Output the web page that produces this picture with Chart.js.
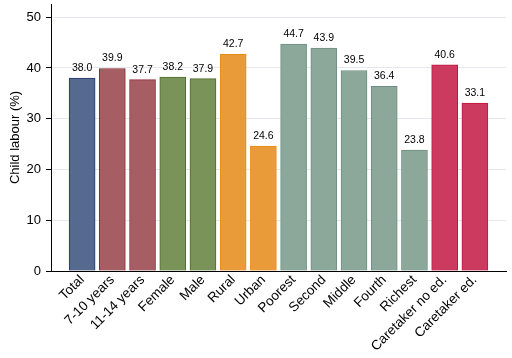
<!DOCTYPE html>
<html>
<head>
<meta charset="utf-8">
<script src="https://cdn.jsdelivr.net/npm/chart.js@4/dist/chart.umd.min.js"></script>
<style>
  html, body { margin: 0; padding: 0; background: #fff; }
  #wrap { width: 512px; height: 358px; }
</style>
</head>
<body>
<div id="wrap"><canvas id="chart" width="512" height="358"></canvas></div>
<script>
// ====== DATA ======
const categories = ["Total", "7-10 years", "11-14 years", "Female", "Male", "Rural", "Urban",
  "Poorest", "Second", "Middle", "Fourth", "Richest", "Caretaker no ed.", "Caretaker ed."];
const childLabour = [38.0, 39.9, 37.7, 38.2, 37.9, 42.7, 24.6, 44.7, 43.9, 39.5, 36.4, 23.8, 40.6, 33.1];
const groupOf = [0, 1, 1, 2, 2, 3, 3, 4, 4, 4, 4, 4, 5, 5];
const yTicks = [0, 10, 20, 30, 40, 50];

// ====== STYLES ======
const groupFill = ["#566a90", "#a65d63", "#7a9358", "#e99b3a", "#8ca89b", "#cc3b5f"];
const groupEdge = ["#26386c", "#8f2c37", "#4f6c30", "#e98c12", "#6d8f81", "#c4143f"];
const FONT = "'Liberation Sans', Arial, sans-serif";

// kill the auto label padding so the plot box lands where the reference has it
function noPad(s) {
  s.paddingLeft = 0; s.paddingRight = 0; s.paddingTop = 0; s.paddingBottom = 0;
}

// value labels above bars
const valueLabels = {
  id: 'valueLabels',
  afterDatasetsDraw(chart) {
    const ctx = chart.ctx;
    const meta = chart.getDatasetMeta(0);
    ctx.save();
    ctx.font = "10.5px " + FONT;
    ctx.fillStyle = "#000";
    ctx.textAlign = "center";
    ctx.textBaseline = "alphabetic";
    meta.data.forEach((bar, i) => {
      ctx.fillText(childLabour[i].toFixed(1), bar.x, bar.y - 7);
    });
    ctx.restore();
  }
};

const ctx = document.getElementById('chart').getContext('2d');
new Chart(ctx, {
  type: 'bar',
  data: {
    datasets: [{
      data: childLabour.map((v, i) => ({ x: i, y: v })),
      backgroundColor: groupOf.map(g => groupFill[g]),
      borderColor: groupOf.map(g => groupEdge[g]),
      borderWidth: 1,
      barThickness: 26
    }]
  },
  options: {
    responsive: false,
    animation: false,
    layout: { padding: { top: 4, right: 6, left: 0, bottom: 0 } },
    plugins: { legend: { display: false }, tooltip: { enabled: false } },
    scales: {
      x: {
        type: 'linear',
        offset: false,
        min: -1.03,
        max: 14.03,
        afterBuildTicks: s => { s.ticks = categories.map((_, i) => ({ value: i })); },
        afterFit: s => { s.height = 87; noPad(s); },
        grid: { display: false },
        border: { display: true, color: "#000", width: 1 },
        ticks: {
          autoSkip: false,
          maxRotation: 45,
          minRotation: 45,
          padding: -7,
          color: "#000",
          font: { family: FONT, size: 13.5 },
          callback: v => categories[v]
        }
      },
      y: {
        min: 0,
        max: 52.6,
        afterBuildTicks: s => { s.ticks = yTicks.map(v => ({ value: v })); },
        afterFit: s => { s.width = 51; noPad(s); },
        grid: { color: "#e4e7f0", tickColor: "#000", tickLength: 5, lineWidth: 1 },
        border: { display: true, color: "#000", width: 1 },
        ticks: { color: "#000", padding: 5, font: { family: FONT, size: 13 } },
        title: { display: true, text: "Child labour (%)", color: "#000", font: { family: FONT, size: 13 }, padding: { top: 8, bottom: 0 } }
      }
    }
  },
  plugins: [valueLabels]
});
</script>
</body>
</html>
